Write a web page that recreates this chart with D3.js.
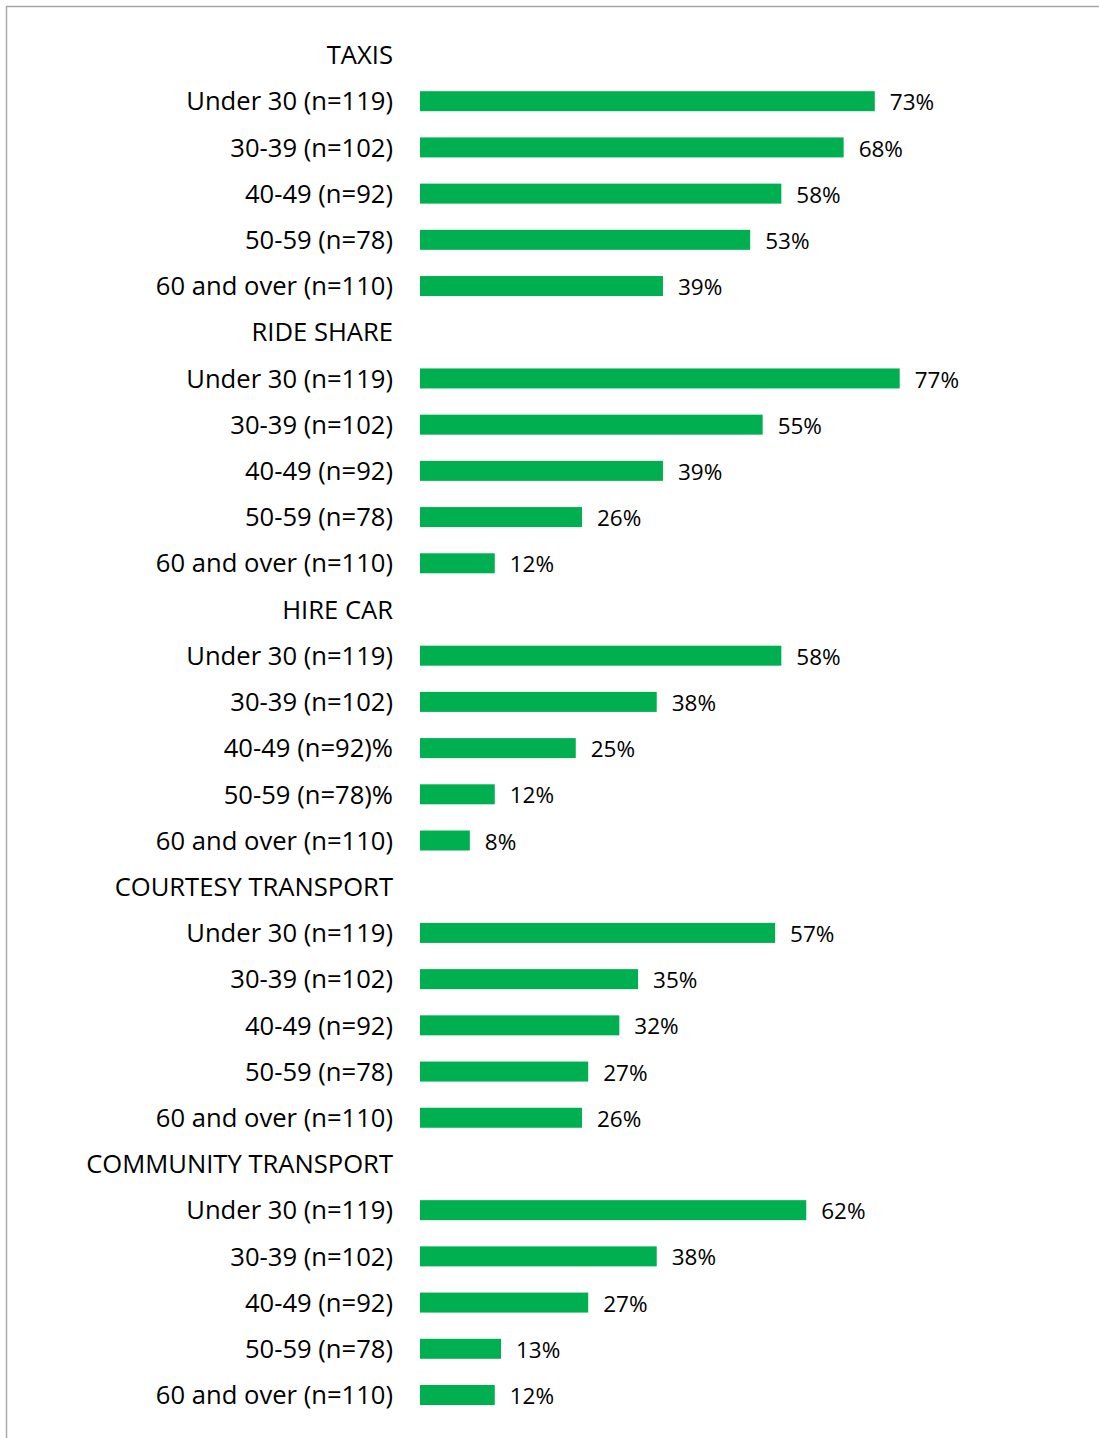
<!DOCTYPE html>
<html>
<head>
<meta charset="utf-8">
<script src="https://cdn.jsdelivr.net/npm/d3@7"></script>
<style>
  body { margin: 0; background: #fff; }
  svg { display: block; }
  text { font-family: "Open Sans", "Noto Sans", sans-serif; fill: #000; }
</style>
</head>
<body>
<svg id="canvas"></svg>
<script>
const width = 1099
const height = 1438

// data
const groups = ["TAXIS", "RIDE SHARE", "HIRE CAR", "COURTESY TRANSPORT", "COMMUNITY TRANSPORT"]
const ages = ["Under 30 (n=119)", "30-39 (n=102)", "40-49 (n=92)", "50-59 (n=78)", "60 and over (n=110)"]
const hireCarAges = ["Under 30 (n=119)", "30-39 (n=102)", "40-49 (n=92)%", "50-59 (n=78)%", "60 and over (n=110)"]
const taxis = [73, 68, 58, 53, 39]
const rideShare = [77, 55, 39, 26, 12]
const hireCar = [58, 38, 25, 12, 8]
const courtesy = [57, 35, 32, 27, 26]
const community = [62, 38, 27, 13, 12]

const seriesValues = [taxis, rideShare, hireCar, courtesy, community]
const seriesLabels = [ages, ages, hireCarAges, ages, ages]

// flatten into rows: a header row then five bars per group
const rows = []
groups.forEach((g, gi) => {
  rows.push({ id: rows.length, label: g, header: true })
  seriesValues[gi].forEach((v, i) => {
    rows.push({ id: rows.length, label: seriesLabels[gi][i], value: v, header: false })
  })
})

const svg = d3.select("#canvas").attr("width", width).attr("height", height)

// frame lines (top and left)
svg.append("line").attr("x1", 6).attr("x2", width).attr("y1", 6.5).attr("y2", 6.5)
  .attr("stroke", "#a6a6a6").attr("stroke-width", 1.5)
svg.append("line").attr("x1", 6.5).attr("x2", 6.5).attr("y1", 6).attr("y2", height)
  .attr("stroke", "#a6a6a6").attr("stroke-width", 1.5)

const y = d3.scaleBand()
  .domain(rows.map(d => d.id))
  .range([31.9, 1418.1])

const x = d3.scaleLinear().domain([0, 100]).range([420, 1043])

const barH = 20

const row = svg.append("g").selectAll("g")
  .data(rows)
  .enter().append("g")
  .attr("transform", d => `translate(0,${y(d.id) + y.bandwidth() / 2})`)

row.append("text")
  .attr("x", 393)
  .attr("dy", "0.36em")
  .attr("text-anchor", "end")
  .style("font-size", "25.6px")
  .text(d => d.label)

const bars = row.filter(d => !d.header)

bars.append("rect")
  .attr("x", x(0))
  .attr("y", -barH / 2)
  .attr("width", d => x(d.value) - x(0))
  .attr("height", barH)
  .attr("fill", "#00b050")

bars.append("text")
  .attr("x", d => x(d.value) + 15)
  .attr("dy", "0.36em")
  .attr("y", 1)
  .style("font-size", "22.5px")
  .text(d => d.value + "%")
</script>
</body>
</html>
